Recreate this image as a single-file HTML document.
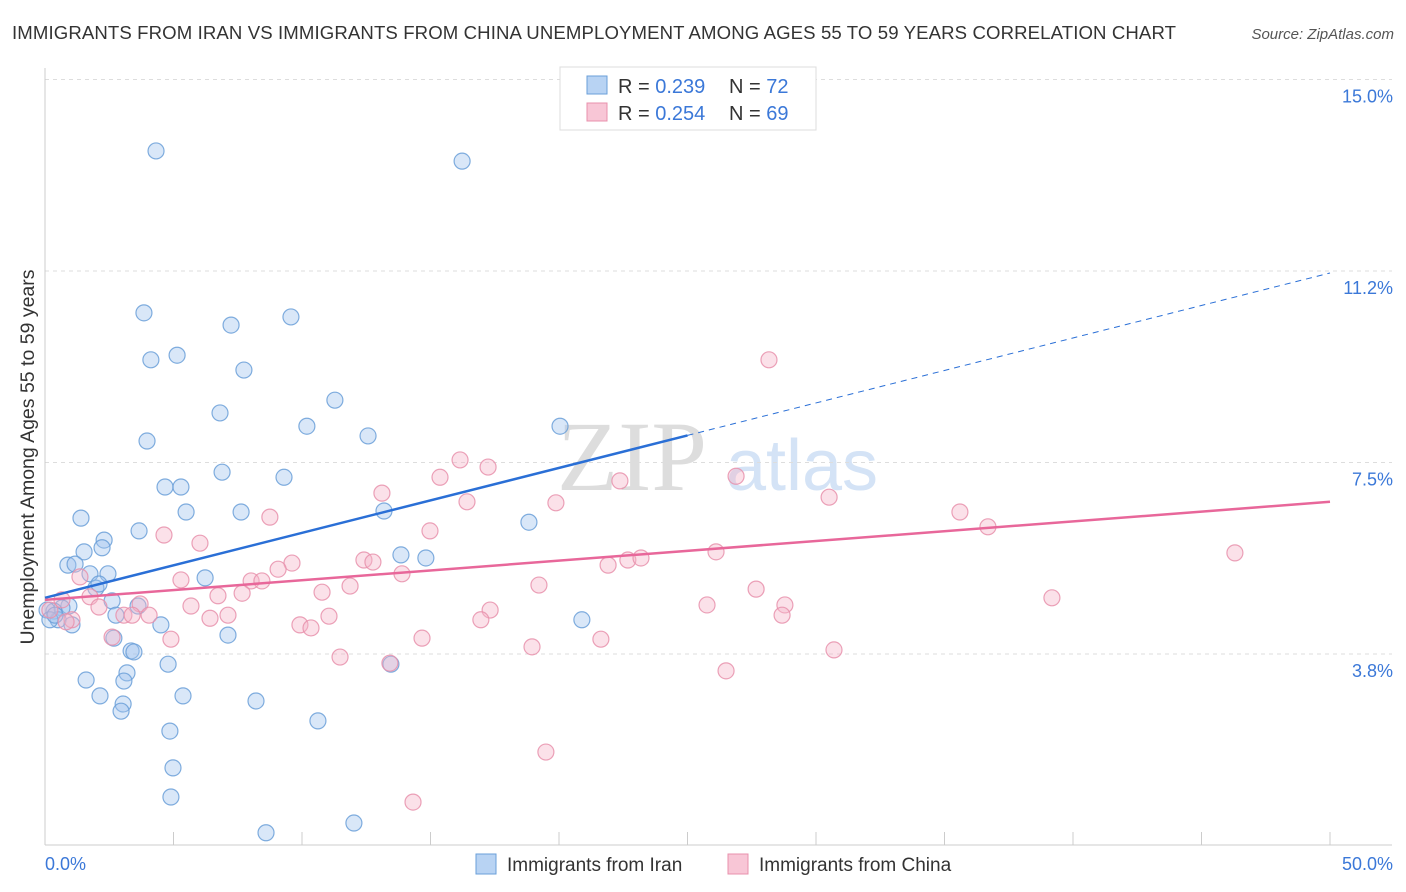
<!DOCTYPE html>
<html><head><meta charset="utf-8"><style>
body{margin:0;background:#fff;font-family:"Liberation Sans",sans-serif;}
svg{display:block}
</style></head><body>
<svg id="chart" width="1406" height="892" viewBox="0 0 1406 892">
<text x="12" y="39" font-size="18.6" fill="#333" textLength="1164">IMMIGRANTS FROM IRAN VS IMMIGRANTS FROM CHINA UNEMPLOYMENT AMONG AGES 55 TO 59 YEARS CORRELATION CHART</text>
<text x="1394" y="39" font-size="15" fill="#555" font-style="italic" text-anchor="end">Source: ZipAtlas.com</text>
<g>
<text x="632" y="490" font-size="100" font-family="Liberation Serif,serif" fill="#ddd" text-anchor="middle">ZIP</text>
<text x="802" y="490" font-size="72" fill="#d4e3f6" text-anchor="middle">atlas</text>
</g>
<g id="grid"></g><g id="axes"></g><g id="pts"></g><g id="trend"></g>
<text transform="translate(34,457) rotate(-90)" font-size="19.5" fill="#333" text-anchor="middle">Unemployment Among Ages 55 to 59 years</text>
<g>
<rect x="560" y="67" width="256" height="63" fill="#fff" stroke="#ddd"/>
<rect x="587" y="76" width="20" height="18" fill="#b8d3f3" stroke="#6a9fd8"/>
<rect x="587" y="103" width="20" height="18" fill="#f8c6d6" stroke="#e890ac"/>
<text x="618" y="93" font-size="20" fill="#333">R = <tspan fill="#3b78d8">0.239</tspan></text>
<text x="729" y="93" font-size="20" fill="#333">N = <tspan fill="#3b78d8">72</tspan></text>
<text x="618" y="120" font-size="20" fill="#333">R = <tspan fill="#3b78d8">0.254</tspan></text>
<text x="729" y="120" font-size="20" fill="#333">N = <tspan fill="#3b78d8">69</tspan></text>
</g>
<g>
<rect x="476" y="854" width="20" height="20" fill="#b8d3f3" stroke="#6a9fd8"/>
<text x="507" y="871" font-size="19" fill="#333">Immigrants from Iran</text>
<rect x="728" y="854" width="20" height="20" fill="#f8c6d6" stroke="#e890ac"/>
<text x="759" y="871" font-size="19" fill="#333">Immigrants from China</text>
</g>
</svg>
<script>
const yTicks=[3.75,7.5,11.25,15];
const yTickLabels=["3.8%","7.5%","11.2%","15.0%"];
const xTickLabels=["0.0%","50.0%"];
const iranX=[4.32,16.23,3.85,7.24,9.57,4.12,5.14,7.74,6.81,11.28,10.19,3.97,12.57,20.04,6.89,9.30,4.67,5.29,5.49,7.63,13.19,18.83,1.40,3.66,2.30,1.52,2.22,0.89,1.17,1.75,2.45,6.23,13.85,14.82,1.98,2.10,2.61,0.93,0.66,0.35,0.51,1.05,2.76,3.62,4.51,20.89,7.12,2.68,3.35,3.46,4.79,13.46,3.19,1.60,3.07,2.14,5.37,8.21,3.04,2.96,10.62,4.86,4.98,4.90,8.60,12.02,0.08,0.19,0.39];
const iranY=[13.60,13.40,10.43,10.19,10.35,9.51,9.60,9.31,8.47,8.72,8.21,7.92,8.02,8.21,7.31,7.21,7.02,7.02,6.53,6.53,6.55,6.33,6.41,6.16,5.98,5.75,5.83,5.49,5.51,5.32,5.32,5.24,5.69,5.63,5.04,5.12,4.79,4.69,4.65,4.59,4.42,4.32,4.51,4.69,4.32,4.42,4.12,4.06,3.81,3.79,3.55,3.55,3.38,3.24,3.22,2.93,2.93,2.83,2.77,2.63,2.44,2.24,1.52,0.95,0.25,0.44,4.61,4.42,4.51];
const chinaX=[28.17,16.15,15.37,17.24,22.37,26.89,13.11,16.42,19.88,30.51,35.60,36.69,8.75,14.98,4.63,6.03,46.30,26.11,9.61,12.41,12.76,9.07,22.68,23.19,21.91,13.89,5.29,8.02,8.44,11.87,19.22,27.67,10.78,7.67,6.73,1.36,1.75,39.18,3.70,5.68,17.32,25.76,28.79,28.68,11.05,16.96,7.12,6.42,3.07,4.05,2.10,3.39,9.92,10.35,1.05,0.82,2.61,4.90,14.67,21.63,18.95,30.70,11.48,13.42,26.50,19.49,14.32,0.66,0.19];
const chinaY=[9.51,7.55,7.21,7.41,7.14,7.23,6.90,6.73,6.71,6.82,6.53,6.24,6.43,6.16,6.08,5.92,5.73,5.75,5.53,5.59,5.55,5.41,5.59,5.63,5.49,5.32,5.20,5.18,5.18,5.08,5.10,5.02,4.96,4.94,4.89,5.26,4.87,4.85,4.73,4.69,4.61,4.71,4.71,4.51,4.49,4.42,4.51,4.45,4.51,4.51,4.67,4.51,4.32,4.26,4.42,4.38,4.08,4.04,4.06,4.04,3.89,3.83,3.69,3.57,3.42,1.83,0.85,4.81,4.61];
const iranTrend=[4.85,11.21];
const chinaTrend=[4.81,6.73];
const NS="http://www.w3.org/2000/svg";
const X=v=>45+v*25.7, Y=v=>845.5-v*51.07;
function mk(p,t,a){const e=document.createElementNS(NS,t);for(const k in a)e.setAttribute(k,a[k]);document.getElementById(p).appendChild(e);return e;}
yTicks.forEach((t,i)=>{
 const l=mk('grid','line',{x1:45,x2:1392,y1:Y(t),y2:Y(t),stroke:'#ddd','stroke-dasharray':'4,4'});
 
 
 const tx=mk('grid','text',{x:1393,y:Y(t)+23,'font-size':18,fill:'#3b78d8','text-anchor':'end'});
 tx.textContent=yTickLabels[i];
 
 
});
const ya=mk('axes','line',{x1:45,x2:45,y1:68,y2:845,stroke:'#ccc'});


const xa=mk('axes','line',{x1:45,x2:1392,y1:845,y2:845,stroke:'#ccc'});


for(let i=0;i<=10;i++){const t=mk('axes','line',{x1:X(i*5),x2:X(i*5),y1:832,y2:845,stroke:'#ccc'});
 
 }
[[0,'start',45],[50,'end',1393]].forEach((d,i)=>{const t=mk('axes','text',{x:d[2],y:870,'font-size':18,fill:'#3b78d8','text-anchor':d[1]});t.textContent=xTickLabels[i];
 
 });
function pts(xs,ys,f,s,n){xs.forEach((x,i)=>{const c=mk('pts','circle',{cx:X(x),cy:Y(ys[i]),r:8,fill:f,'fill-opacity':0.4,stroke:s,'stroke-width':1.2,'stroke-opacity':0.85});
 
 });}
pts(iranX,iranY,'#9fc3ee','#6a9fd8','iran-point');
pts(chinaX,chinaY,'#f5b3c8','#e890ac','china-point');
const b1=mk('trend','line',{x1:X(0),y1:Y(iranTrend[0]),x2:X(25),y2:Y((iranTrend[0]+iranTrend[1])/2),stroke:'#2a6fd6','stroke-width':2.5});


const b2=mk('trend','line',{x1:X(25),y1:Y((iranTrend[0]+iranTrend[1])/2),x2:X(50),y2:Y(iranTrend[1]),stroke:'#2a6fd6','stroke-width':1,'stroke-dasharray':'6,5'});


const p1=mk('trend','line',{x1:X(0),y1:Y(chinaTrend[0]),x2:X(50),y2:Y(chinaTrend[1]),stroke:'#e8679a','stroke-width':2.5});


</script>
</body></html>
